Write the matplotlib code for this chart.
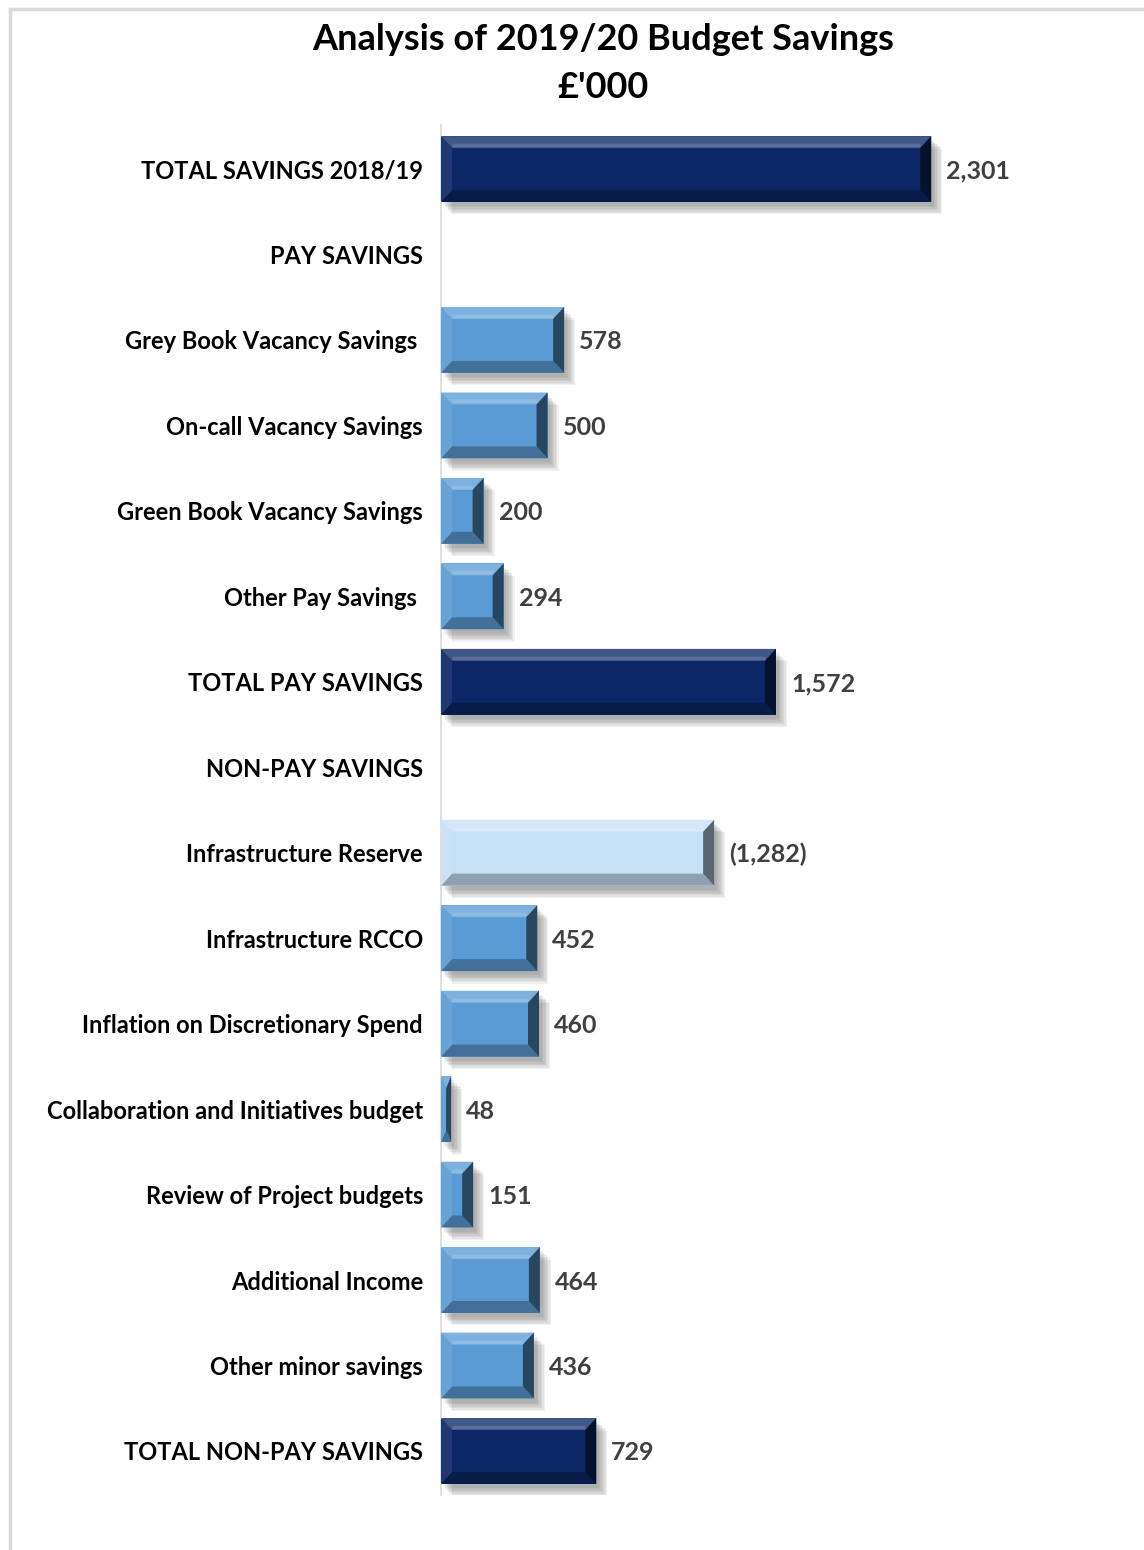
import numpy as np
import matplotlib
matplotlib.use("Agg")
import matplotlib.pyplot as plt
from matplotlib.patches import Polygon
from matplotlib import patheffects as pe
from matplotlib.colors import to_rgb

plt.rcParams['font.family'] = ['Lato', 'DejaVu Sans']

categories = [
    "TOTAL SAVINGS 2018/19",
    "PAY SAVINGS",
    "Grey Book Vacancy Savings ",
    "On-call Vacancy Savings",
    "Green Book Vacancy Savings",
    "Other Pay Savings ",
    "TOTAL PAY SAVINGS",
    "NON-PAY SAVINGS",
    "Infrastructure Reserve",
    "Infrastructure RCCO",
    "Inflation on Discretionary Spend",
    "Collaboration and Initiatives budget",
    "Review of Project budgets",
    "Additional Income",
    "Other minor savings",
    "TOTAL NON-PAY SAVINGS",
]
# £'000, None for heading rows; negative = reserve drawdown shown in brackets
values = [2301, None, 578, 500, 200, 294, 1572, None,
          -1282, 452, 460, 48, 151, 464, 436, 729]
kinds = ["total", "head", "item", "item", "item", "item", "total", "head",
         "reserve", "item", "item", "item", "item", "item", "item", "total"]

base_colors = {"total": "#0B2766", "item": "#5B9BD5", "reserve": "#C6E0F6"}


def shade(c, f):
    # f > 0 lightens towards white, f < 0 darkens towards black
    r = np.array(to_rgb(c))
    if f >= 0:
        return tuple(r + (1 - r) * f)
    return tuple(r * (1 + f))


W, H = 1144, 1550
fig = plt.figure(figsize=(W / 100, H / 100), dpi=100)
ax_left, ax_right = 441 / W, 1110 / W
ax_top, ax_bot = 1 - 125 / H, 1 - 1495 / H
ax = fig.add_axes([ax_left, ax_bot, ax_right - ax_left, ax_top - ax_bot])

n = len(categories)
y = np.arange(n)
lengths = [abs(v) if v is not None else 0 for v in values]
colors = [base_colors.get(k, "#FFFFFF") for k in kinds]

xmax = 3140
ax.set_xlim(0, xmax)
ax.set_ylim(n - 0.485, -0.515)

bars = ax.barh(y, lengths, height=0.77, color=colors, zorder=2)

ax_w_px = (ax_right - ax_left) * W
ax_h_px = (ax_top - ax_bot) * H
ux = xmax / ax_w_px
uy = n / ax_h_px

# soft drop shadow built from a few faint offset copies
shadow = [pe.SimplePatchShadow(offset=(d, -d - 1), shadow_rgbFace="#606060", alpha=0.09)
          for d in (2, 3, 4, 5, 6, 7, 8)]

for bar, v, k in zip(bars, values, kinds):
    if v is None:
        bar.set_visible(False)
        continue
    c = base_colors[k]
    bar.set_path_effects(shadow + [pe.Normal()])
    L = bar.get_x()
    R = L + bar.get_width()
    T = bar.get_y()
    B = T + bar.get_height()
    bx = min(11 * ux, (R - L) / 2)
    by = 12 * uy
    polys = [
        ([(L, T), (R, T), (R - bx, T + by), (L + bx, T + by)], shade(c, 0.22)),
        ([(L, B), (R, B), (R - bx, B - by), (L + bx, B - by)], shade(c, -0.28)),
        ([(L, T), (L + bx, T + by), (L + bx, B - by), (L, B)], shade(c, 0.08)),
        ([(R, T), (R - bx, T + by), (R - bx, B - by), (R, B)], shade(c, -0.55)),
    ]
    for pts, col in polys:
        ax.add_patch(Polygon(pts, closed=True, facecolor=col, edgecolor="none", zorder=3))
    # soft highlight just inside the top bevel
    ax.plot([L + bx, R - bx], [T + by * 0.75, T + by * 0.75], color=shade(c, 0.4),
            lw=2.5, alpha=0.6, zorder=4, solid_capstyle="butt")

    label = f"({abs(v):,})" if v < 0 else f"{v:,}"
    ax.annotate(label, xy=(R, bar.get_y() + bar.get_height() / 2), xytext=(15, -2),
                textcoords="offset pixels", ha="left", va="center",
                fontsize=18, fontweight="bold", color="#404040", zorder=5)

ax.set_yticks(y)
ax.set_yticklabels(categories, fontsize=17, fontweight="bold", color="#000000")
ax.tick_params(axis="y", length=0, pad=13)
ax.set_xticks([])
for s in ["top", "right", "bottom"]:
    ax.spines[s].set_visible(False)
ax.spines["left"].set_color("#D9D9D9")
ax.spines["left"].set_linewidth(1.2)

fig.text(0.527, 1 - 40 / H, "Analysis of 2019/20 Budget Savings", ha="center", va="center",
         fontsize=26, fontweight="bold", color="#000000")
fig.text(0.527, 1 - 87 / H, "£'000", ha="center", va="center",
         fontsize=26, fontweight="bold", color="#000000")

# chart area frame
fig.add_artist(plt.Line2D([10 / W, 1], [1 - 9 / H, 1 - 9 / H], color="#D9D9D9", lw=2.5))
fig.add_artist(plt.Line2D([10 / W, 10 / W], [0, 1 - 9 / H], color="#D9D9D9", lw=2.5))

fig.savefig("out.png", dpi=100, facecolor="white")
